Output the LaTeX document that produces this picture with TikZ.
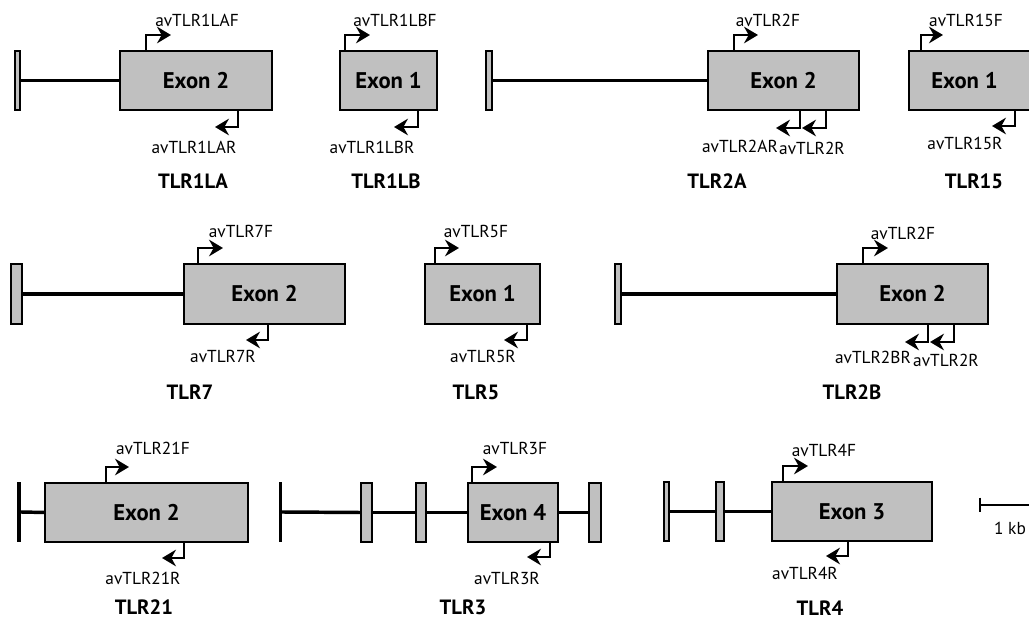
\documentclass[tikz,border=0pt]{standalone}
\usepackage{fontspec}
\setmainfont{PT Sans}
\usetikzlibrary{arrows.meta}
\definecolor{exongray}{RGB}{192,192,192}
\tikzset{
  exon/.style={draw=black, line width=1.6pt, fill=exongray, inner sep=0pt, outer sep=0pt,
    font=\fontsize{17}{19}\selectfont\bfseries},
  endbar/.style={fill=black, draw=none, inner sep=0pt, outer sep=0pt},
  intron/.style={line width=2.6pt},
  primer/.style={line width=1.5pt, -{Stealth[length=10.5pt,width=12.5pt,inset=3.5pt]}},
  plabel/.style={font=\fontsize{13}{15}\selectfont, inner sep=0pt},
  glabel/.style={font=\fontsize{15.5}{18}\selectfont\bfseries, inner sep=0pt},
  scalebar/.style={line width=1.2pt},
}
% style, name, x1, y1, x2, y2, text
\newcommand\gbox[7]{\node[#1, anchor=north west, minimum width={(#5-#3)*0.75pt},
  minimum height={(#6-#4)*0.75pt}] (#2) at (#3,#4) {#7};}
% forward primer: box, offset px, dx px
\newcommand\fwd[3]{\draw[primer] ([xshift=#2*0.75pt]#1.north west) |- ++(#3,-16);}
% reverse primer: box, offset px, dx px, dy px
\newcommand\rev[4]{\draw[primer] ([xshift=#2*0.75pt]#1.south west) |- ++(-#3,#4);}
\begin{document}
\begin{tikzpicture}[x=0.75pt, y=-0.75pt]
\useasboundingbox (0,0) rectangle (1029,620);
\begin{scope}
\clip (0,0) rectangle (1029,620);
% ===== Row 1 =====
% TLR1LA
\gbox{exon}{s1}{15}{51}{20}{110}{}
\gbox{exon}{b1}{120}{51}{272}{110}{Exon 2}
\draw[intron] (s1.east) -- (b1.west);
\fwd{b1}{26}{25}
\rev{b1}{118}{23}{17}
\node[plabel] (p1f) at (197,20) {avTLR1LAF};
\node[plabel] (p1r) at (194,147) {avTLR1LAR};
\node[glabel] (g1) at (193,181) {TLR1LA};
% TLR1LB
\gbox{exon}{b2}{340}{51}{437}{110}{Exon 1}
\fwd{b2}{5}{25}
\rev{b2}{78}{24}{17}
\node[plabel] (p2f) at (395,20) {avTLR1LBF};
\node[plabel] (p2r) at (372,147) {avTLR1LBR};
\node[glabel] (g2) at (386,181) {TLR1LB};
% TLR2A
\gbox{exon}{s3}{486}{51}{492}{110}{}
\gbox{exon}{b3}{708}{51}{859}{110}{Exon 2}
\draw[intron] (s3.east) -- (b3.west);
\fwd{b3}{26}{24}
\rev{b3}{92}{24}{18}
\rev{b3}{118}{24}{18}
\node[plabel] (p3f) at (768,20) {avTLR2F};
\node[plabel] (p3r) at (740,146) {avTLR2AR};
\node[plabel] (p3r2) at (812,148) {avTLR2R};
\node[glabel] (g3) at (717,181) {TLR2A};
% TLR15
\gbox{exon}{b4}{909}{51}{1060}{110}{\hspace*{-30pt}Exon 1}
\fwd{b4}{12}{22}
\rev{b4}{106}{23}{16}
\node[plabel] (p4f) at (966,20) {avTLR15F};
\node[plabel] (p4r) at (965,143) {avTLR15R};
\node[glabel] (g4) at (974,181) {TLR15};
% ===== Row 2 =====
% TLR7
\gbox{exon}{s5}{11}{264}{22}{324}{}
\gbox{exon}{b5}{184}{264}{345}{324}{Exon 2}
\draw[intron] (s5.east) -- (b5.west);
\fwd{b5}{14}{25}
\rev{b5}{84}{22}{16}
\node[plabel] (p5f) at (241,231) {avTLR7F};
\node[plabel] (p5r) at (223,356) {avTLR7R};
\node[glabel] (g5) at (190,392) {TLR7};
% TLR5
\gbox{exon}{b6}{425}{264}{540}{324}{Exon 1}
\fwd{b6}{10}{24}
\rev{b6}{102}{23}{16}
\node[plabel] (p6f) at (476,231) {avTLR5F};
\node[plabel] (p6r) at (483,356) {avTLR5R};
\node[glabel] (g6) at (476,392) {TLR5};
% TLR2B
\gbox{exon}{s7}{615}{264}{621}{324}{}
\gbox{exon}{b7}{837}{264}{988}{324}{Exon 2}
\draw[intron] (s7.east) -- (b7.west);
\fwd{b7}{26}{25}
\rev{b7}{91}{23}{18}
\rev{b7}{117}{24}{18}
\node[plabel] (p7f) at (903,233) {avTLR2F};
\node[plabel] (p7r) at (873,357) {avTLR2BR};
\node[plabel] (p7r2) at (946,360) {avTLR2R};
\node[glabel] (g7) at (852,392) {TLR2B};
% ===== Row 3 =====
% TLR21
\gbox{endbar}{e8}{17}{482}{21}{542}{}
\gbox{exon}{b8}{45}{483}{248}{542}{Exon 2}
\draw[intron] (e8.east) -- (b8.west);
\fwd{b8}{61}{23}
\rev{b8}{139}{22}{16}
\node[plabel] (p8f) at (153,448) {avTLR21F};
\node[plabel] (p8r) at (143,578) {avTLR21R};
\node[glabel] (g8) at (144,607) {TLR21};
% TLR3
\gbox{endbar}{e9}{279}{482}{282}{542}{}
\gbox{exon}{s9a}{361}{483}{372}{542}{}
\gbox{exon}{s9b}{416}{483}{426}{542}{}
\gbox{exon}{b9}{468}{483}{558}{542}{Exon 4}
\gbox{exon}{s9c}{589}{483}{601}{542}{}
\draw[intron] (e9.east) -- (s9a.west);
\draw[intron] (s9a.east) -- (s9b.west);
\draw[intron] (s9b.east) -- (b9.west);
\draw[intron] (b9.east) -- (s9c.west);
\fwd{b9}{4}{25}
\rev{b9}{82}{23}{15}
\node[plabel] (p9f) at (515,448) {avTLR3F};
\node[plabel] (p9r) at (507,578) {avTLR3R};
\node[glabel] (g9) at (463,607) {TLR3};
% TLR4
\gbox{exon}{s10a}{664}{482}{669}{541}{}
\gbox{exon}{s10b}{716}{482}{724}{541}{}
\gbox{exon}{b10}{772}{482}{932}{541}{Exon 3}
\draw[intron] (s10a.east) -- (s10b.west);
\draw[intron] (s10b.east) -- (b10.west);
\fwd{b10}{11}{25}
\rev{b10}{76}{22}{15}
\node[plabel] (p10f) at (824,450) {avTLR4F};
\node[plabel] (p10r) at (805,573) {avTLR4R};
\node[glabel] (g10) at (820,608) {TLR4};
% scale bar
\coordinate (sb0) at (980,505);
\coordinate (sb1) at (1040,505);
\draw[scalebar] ([yshift=5.6pt]sb0) -- ([yshift=-5.6pt]sb0);
\draw[scalebar] (sb0) -- (sb1);
\node[plabel] (kb) at (1010,528) {1 kb};
\end{scope}
\end{tikzpicture}
\end{document}
